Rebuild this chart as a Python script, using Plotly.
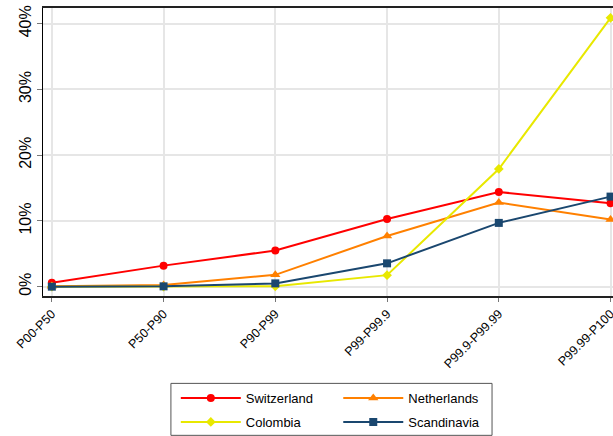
import plotly.graph_objects as go

categories = ["P00-P50", "P50-P90", "P90-P99", "P99-P99.9", "P99.9-P99.99", "P99.99-P100"]
switzerland = [0.6, 3.2, 5.5, 10.3, 14.4, 12.7]
netherlands = [0.05, 0.25, 1.8, 7.7, 12.8, 10.2]
colombia = [0.0, 0.0, 0.05, 1.75, 17.9, 40.9]
scandinavia = [0.0, 0.05, 0.5, 3.55, 9.7, 13.7]
y_ticks = [0, 10, 20, 30, 40]
y_tick_labels = ["0%", "10%", "20%", "30%", "40%"]

FONT = "Arial, Liberation Sans, sans-serif"
x_idx = list(range(len(categories)))

series = [
    ("Switzerland", switzerland, "#ff0000", "circle", 8, "legend"),
    ("Netherlands", netherlands, "#ff8000", "triangle-up", 9, "legend2"),
    ("Colombia", colombia, "#e8e800", "diamond", 7.5, "legend"),
    ("Scandinavia", scandinavia, "#1a476f", "square", 8, "legend2"),
]

fig = go.Figure()
for name, vals, col, sym, sz, lg in series:
    fig.add_trace(go.Scatter(
        x=x_idx, y=vals, name=name, mode="lines+markers",
        line=dict(color=col, width=2),
        marker=dict(color=col, symbol=sym, size=sz, line=dict(width=0)),
        legend=lg, legendgroup=name, cliponaxis=False,
    ))

fig.update_layout(
    width=613, height=436,
    margin=dict(l=43, r=0, t=8, b=140, autoexpand=False),
    paper_bgcolor="white", plot_bgcolor="white",
    font=dict(family=FONT, color="black"),
    showlegend=True,
    legend=dict(x=0.233, xanchor="left", y=-0.396, yanchor="middle",
                orientation="v", font=dict(size=13, family=FONT),
                itemwidth=60, tracegroupgap=4, bgcolor="rgba(0,0,0,0)"),
    legend2=dict(x=0.518, xanchor="left", y=-0.396, yanchor="middle",
                 orientation="v", font=dict(size=13, family=FONT),
                 itemwidth=60, tracegroupgap=4, bgcolor="rgba(0,0,0,0)"),
    shapes=[dict(type="rect", xref="paper", yref="paper",
                 x0=0.2244, x1=0.7878, y0=-0.4838, y1=-0.3034,
                 line=dict(color="#555555", width=1), fillcolor="rgba(0,0,0,0)")],
)

fig.update_xaxes(
    range=[-0.079, 5.022], automargin=False,
    tickmode="array", tickvals=x_idx, ticktext=categories,
    tickangle=-45, tickfont=dict(size=12.5, family=FONT, color="black"),
    ticklabeloverflow="allow",
    showgrid=True, gridcolor="#e6e6e6", gridwidth=1.5,
    showline=True, linecolor="#222222", linewidth=1.5, mirror=True,
    ticks="outside", ticklen=4, tickcolor="#777777",
    zeroline=False,
)
fig.update_yaxes(
    range=[-1.42, 42.39], automargin=False,
    tickmode="array", tickvals=y_ticks, ticktext=y_tick_labels,
    tickangle=-90, tickfont=dict(size=16, family=FONT, color="black"),
    ticklabeloverflow="allow",
    showgrid=True, gridcolor="#e6e6e6", gridwidth=1.5,
    showline=True, linecolor="black", linewidth=1, mirror=True,
    ticks="outside", ticklen=5, tickcolor="#777777",
    zeroline=False,
)

fig.write_html("out.html", config={"displayModeBar": False},
               post_script="document.body.style.margin='0';document.body.style.overflow='hidden';")
